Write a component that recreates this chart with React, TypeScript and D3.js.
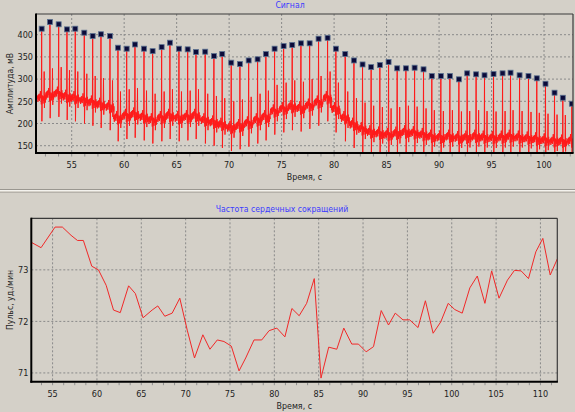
import * as d3 from 'd3'

const W = 575
const H = 412

// "Сигнал": R-peak times (s), peak amplitudes (mV) and local baseline (mV)
const beatTimes = [
  52.14, 52.93, 53.76, 54.55, 55.34, 56.2, 57.0, 57.79, 58.65, 59.41, 60.24, 61.03, 61.89, 62.71, 63.57, 64.36,
  65.22, 66.05, 66.84, 67.72, 68.55, 69.34, 70.2, 71.03, 71.86, 72.71, 73.5, 74.33, 75.19, 76.01, 76.84, 77.67,
  78.52, 79.38, 80.17, 81.06, 81.89, 82.71, 83.53, 84.36, 85.19, 86.01, 86.84, 87.67, 88.52, 89.31, 90.17, 91.03,
  91.89, 92.68, 93.53, 94.33, 95.19, 96.05, 96.81, 97.67, 98.52, 99.31, 100.14, 101.0, 101.79, 102.65,
]
const peakAmps = [
  413.5, 428.6, 423.4, 412, 413.5, 404.5, 397, 401, 397, 370.7, 368.5, 378, 368.5, 363, 372, 382,
  368.5, 367, 361, 361.7, 352, 356.5, 337, 334, 342, 344.6, 356.5, 368.5, 374.5, 376.8, 380.6, 380.6,
  391, 393, 368.5, 356.5, 342, 333, 327, 331.8, 338.5, 324.3, 324.3, 325.7, 322, 307, 307, 307,
  299.5, 313, 310.8, 308.6, 311.5, 313, 314.4, 308.6, 307, 301.8, 289.6, 269.4, 258, 244.6,
]
const baseLevels = [
  255, 262, 265, 258, 255, 250, 245, 240, 235, 210, 215, 218, 212, 205, 210, 215,
  210, 212, 215, 205, 200, 195, 188, 192, 198, 205, 212, 225, 230, 235, 232, 238,
  245, 255, 230, 210, 195, 185, 178, 175, 172, 175, 178, 176, 172, 168, 166, 168,
  165, 166, 168, 166, 165, 166, 168, 166, 164, 162, 160, 158, 157, 158,
]
// one heartbeat as [seconds from R peak, mV above baseline]; null marks the R peak itself
const beatShape: [number, number | null][] = [
  [-0.42, 0], [-0.38, 8], [-0.35, -6], [-0.31, 10], [-0.27, -2], [-0.23, 12], [-0.2, -4], [-0.16, 6],
  [-0.12, 18], [-0.09, 2], [-0.06, 10], [-0.03, -12], [0, null], [0.02, -50], [0.05, -6], [0.09, 8],
  [0.13, -10], [0.17, 6], [0.21, -4], [0.24, 62], [0.265, -20], [0.3, 10], [0.34, -8], [0.37, 4], [0.4, -2],
]

// "Частота сердечных сокращений"
const hrTimes = [
  52.64, 53.7, 55.28, 56.1, 57.08, 57.8, 58.47, 59.42, 60.17, 61.04, 61.87, 62.63, 63.57, 64.33, 65.2, 66.22,
  66.86, 67.65, 68.48, 69.34, 70.18, 71.0, 71.94, 72.74, 73.57, 74.32, 75.15, 76.02, 76.77, 77.71, 78.58, 79.41,
  80.28, 81.19, 81.98, 82.8, 83.64, 84.5, 85.26, 86.13, 87.04, 87.83, 88.73, 89.48, 90.35, 91.18, 92.05, 92.87,
  93.63, 94.5, 95.25, 96.2, 97.03, 97.9, 98.76, 99.6, 100.34, 101.18, 102.04, 102.88, 103.74, 104.5, 105.33,
  106.28, 107.07, 107.82, 108.65, 109.48, 110.27, 111.1, 112.05,
]
const hrValues = [
  73.53, 73.43, 73.83, 73.83, 73.67, 73.57, 73.57, 73.07, 73.0, 72.7, 72.22, 72.17, 72.69, 72.54, 72.07, 72.22,
  72.3, 72.1, 72.16, 72.45, 71.83, 71.29, 71.74, 71.46, 71.64, 71.61, 71.52, 71.04, 71.29, 71.64, 71.64, 71.82,
  71.87, 71.7, 72.25, 72.11, 72.35, 72.83, 70.9, 71.5, 71.46, 71.87, 71.56, 71.56, 71.41, 71.51, 72.21, 71.93,
  72.16, 72.03, 72.03, 71.88, 72.4, 71.77, 71.99, 72.35, 72.23, 72.16, 72.65, 72.88, 72.35, 72.98, 72.45,
  72.8, 72.99, 72.98, 72.83, 73.35, 73.61, 72.9, 73.27,
]

const sigXTicks = [55, 60, 65, 70, 75, 80, 85, 90, 95, 100]
const sigYTicks = [150, 200, 250, 300, 350, 400]
const hrXTicks = [55, 60, 65, 70, 75, 80, 85, 90, 95, 100, 105, 110]
const hrYTicks = [71, 72, 73]

const BG = '#d4d0c8'
const FONT = '"Liberation Sans Narrow", "DejaVu Sans Condensed", "Liberation Sans", sans-serif'

type Box = { left: number; right: number; top: number; bottom: number }

function Frame({ box, id, x, y, xTicks, yTicks, title, yTitle, titleX }: {
  box: Box
  id: string
  x: d3.ScaleLinear<number, number>
  y: d3.ScaleLinear<number, number>
  xTicks: number[]
  yTicks: number[]
  title: string
  yTitle: string
  titleX: number
}) {
  const [d0, d1] = x.domain()
  const minor = d3.range(Math.ceil(d0 / 1.25) * 1.25, d1, 1.25)
  const midY = (box.top + box.bottom) / 2
  return (
    <g>
      <defs>
        <clipPath id={id}>
          <rect x={box.left} y={box.top} width={box.right - box.left} height={box.bottom - box.top} />
        </clipPath>
      </defs>
      <text x={titleX} y={box.top - 6} textAnchor="middle" fontSize={8.6} fill="#3b3bff" fontFamily={FONT}>
        {title}
      </text>
      {xTicks.map((t) => (
        <line key={'gx' + t} x1={x(t)} x2={x(t)} y1={box.top} y2={box.bottom}
          stroke="#8a8a8a" strokeDasharray="2,2" />
      ))}
      {yTicks.map((t) => (
        <line key={'gy' + t} x1={box.left} x2={box.right} y1={y(t)} y2={y(t)}
          stroke="#8a8a8a" strokeDasharray="2,2" />
      ))}
      {minor.map((t) => (
        <line key={'mt' + t} x1={x(t)} x2={x(t)} y1={box.bottom + 1} y2={box.bottom + 3.5} stroke="#909090" />
      ))}
      {xTicks.map((t) => (
        <text key={'lx' + t} x={x(t)} y={box.bottom + 15} textAnchor="middle" fontSize={9}
          fill="#222" fontFamily={FONT}>{t}</text>
      ))}
      {yTicks.map((t) => (
        <text key={'ly' + t} x={box.left - 3} y={y(t) + 3.3} textAnchor="end" fontSize={9}
          fill="#222" fontFamily={FONT}>{t}</text>
      ))}
      <text x={(box.left + box.right) / 2} y={box.bottom + 27} textAnchor="middle" fontSize={8.8}
        fill="#222" fontFamily={FONT}>Время, с</text>
      <text transform={`translate(13,${midY}) rotate(-90)`} textAnchor="middle" fontSize={8.6}
        fill="#222" fontFamily={FONT}>{yTitle}</text>
    </g>
  )
}

function Border({ box }: { box: Box }) {
  return (
    <g fill="none">
      <line x1={box.left} x2={box.right} y1={box.top} y2={box.top} stroke="#3a3a3a" strokeWidth={1.2} />
      <line x1={box.right} x2={box.right} y1={box.top} y2={box.bottom} stroke="#3a3a3a" strokeWidth={1.2} />
      <line x1={box.left} x2={box.left} y1={box.top - 0.6} y2={box.bottom + 1} stroke="#000" strokeWidth={2} />
      <line x1={box.left - 1} x2={box.right + 0.6} y1={box.bottom} y2={box.bottom} stroke="#000" strokeWidth={2} />
    </g>
  )
}

export default function App() {
  const sigBox: Box = { left: 36, right: 573, top: 14, bottom: 153 }
  const hrBox: Box = { left: 31.3, right: 557.3, top: 218.3, bottom: 381.7 }

  const sx = d3.scaleLinear().domain([51.6, 102.76]).range([sigBox.left, sigBox.right])
  const sy = d3.scaleLinear().domain([133.6, 446.6]).range([sigBox.bottom, sigBox.top])
  const hx = d3.scaleLinear().domain([52.6, 111.9]).range([hrBox.left, hrBox.right])
  const hy = d3.scaleLinear().domain([70.83, 74.0]).range([hrBox.bottom, hrBox.top])

  const signal: [number, number][] = []
  beatTimes.forEach((t, i) => {
    beatShape.forEach(([dt, dv]) => {
      signal.push([t + dt, dv === null ? peakAmps[i] : baseLevels[i] + dv])
    })
  })
  const sigPath = d3.line<[number, number]>().x((d) => sx(d[0])).y((d) => sy(d[1]))(signal) ?? ''
  const hrPath = d3.line<number>().x((_, i) => hx(hrTimes[i])).y((d) => hy(d))(hrValues) ?? ''

  return (
    <svg width={W} height={H} style={{ position: 'absolute', left: 0, top: 0, display: 'block' }}>
      <rect width={W} height={H} fill={BG} />

      {/* splitter between the two panes */}
      <line x1={0} x2={W} y1={189.5} y2={189.5} stroke="#9a9790" />
      <line x1={0} x2={W} y1={190.5} y2={190.5} stroke="#f4f2ee" />
      <line x1={0} x2={W} y1={192.5} y2={192.5} stroke="#b5b1aa" />

      <Frame box={sigBox} id="clipSig" x={sx} y={sy} xTicks={sigXTicks} yTicks={sigYTicks}
        title="Сигнал" yTitle="Амплитуда, мВ" titleX={290} />
      <g clipPath="url(#clipSig)">
        <path d={sigPath} fill="none" stroke="#ff1a1a" strokeWidth={1} strokeLinejoin="round" />
        {beatTimes.map((t, i) => (
          <rect key={t} x={sx(t) - 2.5} y={sy(peakAmps[i]) - 2.5} width={5} height={5}
            fill="#0b0b3a" stroke="#5c7290" strokeWidth={0.8} />
        ))}
      </g>
      <Border box={sigBox} />

      <Frame box={hrBox} id="clipHr" x={hx} y={hy} xTicks={hrXTicks} yTicks={hrYTicks}
        title="Частота сердечных сокращений" yTitle="Пульс, уд./мин" titleX={282} />
      <g clipPath="url(#clipHr)">
        <path d={hrPath} fill="none" stroke="#f02828" strokeWidth={1} />
      </g>
      <Border box={hrBox} />
    </svg>
  )
}
